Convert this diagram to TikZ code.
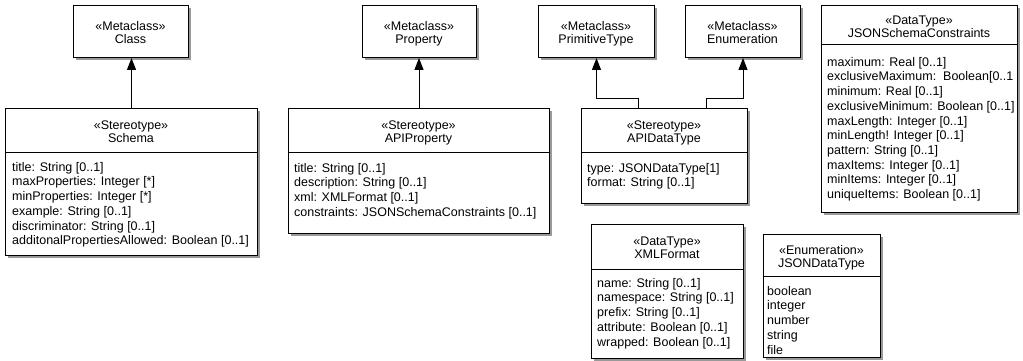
\documentclass[tikz,border=0pt]{standalone}
\usepackage{fontspec}
\usetikzlibrary{arrows.meta,shadows}
\newfontfamily\umlfamily{Liberation Sans}
\newcommand\umlattrfont{\umlfamily\fontsize{12.5pt}{14.7pt}\selectfont}
\newcommand\umlhdrfont{\umlfamily\fontsize{12.5pt}{13pt}\selectfont}
\newcommand\capstrut{\rule{0pt}{11pt}}
\tikzset{
  umlbox/.style={draw, line width=1pt, fill=white, anchor=north west, inner sep=0pt,
    drop shadow={shadow xshift=2.5pt, shadow yshift=-2.5pt, fill=black!40, opacity=1}},
  hdrtext/.style={anchor=north, align=center, inner sep=0pt, font=\umlhdrfont},
  attrtext/.style={anchor=north west, align=left, inner sep=0pt, font=\umlattrfont},
  divline/.style={line width=1pt},
  gen/.style={-{Triangle[width=9pt,length=12pt]}, line width=1pt},
}
\begin{document}
\begin{tikzpicture}[x=1pt,y=-1pt]
\useasboundingbox (0,0) rectangle (1023,361);

% metaclasses
\node[umlbox, minimum width=115pt, minimum height=52pt] (class) at (73,5) {};
\node[hdrtext] (class-h) at (130.5,19.5) {\capstrut«Metaclass»\\Class};
\node[umlbox, minimum width=114pt, minimum height=52pt] (prop) at (362,5) {};
\node[hdrtext] (prop-h) at (419,19.5) {\capstrut«Metaclass»\\Property};
\node[umlbox, minimum width=116pt, minimum height=52pt] (primtype) at (538,5) {};
\node[hdrtext] (primtype-h) at (596,19.5) {\capstrut«Metaclass»\\PrimitiveType};
\node[umlbox, minimum width=115pt, minimum height=52pt] (enum) at (685,5) {};
\node[hdrtext] (enum-h) at (742.5,19.5) {\capstrut«Metaclass»\\Enumeration};

% Schema stereotype
\node[umlbox, minimum width=252pt, minimum height=147pt] (schema) at (5,108) {};
\draw[divline] (schema.west |- 0,152) -- (schema.east |- 0,152);
\node[hdrtext] (schema-h) at (131,118) {\capstrut«Stereotype»\\Schema};
\node[attrtext] (schema-a) at (12,160) {\capstrut title: String [0..1]\\
  maxProperties: Integer [*]\\
  minProperties: Integer [*]\\
  example: String [0..1]\\
  discriminator: String [0..1]\\
  additonalPropertiesAllowed: Boolean [0..1]};

% APIProperty stereotype
\node[umlbox, minimum width=261pt, minimum height=125pt] (apiprop) at (288,108) {};
\draw[divline] (apiprop.west |- 0,152) -- (apiprop.east |- 0,152);
\node[hdrtext] (apiprop-h) at (418.5,118) {\capstrut«Stereotype»\\APIProperty};
\node[attrtext] (apiprop-a) at (294,161) {\capstrut title: String [0..1]\\
  description: String [0..1]\\
  xml: XMLFormat [0..1]\\
  constraints: JSONSchemaConstraints [0..1]};

% APIDataType stereotype
\node[umlbox, minimum width=166pt, minimum height=95pt] (apidt) at (581,108) {};
\draw[divline] (apidt.west |- 0,152) -- (apidt.east |- 0,152);
\node[hdrtext] (apidt-h) at (664,118) {\capstrut«Stereotype»\\APIDataType};
\node[attrtext] (apidt-a) at (587,161) {\capstrut type: JSONDataType[1]\\
  format: String [0..1]};

% JSONSchemaConstraints data type
\node[umlbox, minimum width=196pt, minimum height=207pt] (jsc) at (821,5) {};
\draw[divline] (jsc.west |- 0,45) -- (jsc.east |- 0,45);
\node[hdrtext] (jsc-h) at (919,13) {\capstrut«DataType»\\JSONSchemaConstraints};
\node[attrtext] (jsc-a) at (827,55) {\capstrut maximum: Real [0..1]\\
  exclusiveMaximum:\ \ Boolean[0..1\\
  minimum: Real [0..1]\\
  exclusiveMinimum: Boolean [0..1]\\
  maxLength: Integer [0..1]\\
  minLength! Integer [0..1]\\
  pattern: String [0..1]\\
  maxItems: Integer [0..1]\\
  minItems: Integer [0..1]\\
  uniqueItems: Boolean [0..1]};

% XMLFormat data type
\node[umlbox, minimum width=152pt, minimum height=134pt] (xmlf) at (591,224) {};
\draw[divline] (xmlf.west |- 0,269) -- (xmlf.east |- 0,269);
\node[hdrtext] (xmlf-h) at (667,234) {\capstrut«DataType»\\XMLFormat};
\node[attrtext] (xmlf-a) at (597,276) {\capstrut name: String [0..1]\\
  namespace: String [0..1]\\
  prefix: String [0..1]\\
  attribute: Boolean [0..1]\\
  wrapped: Boolean [0..1]};

% JSONDataType enumeration
\node[umlbox, minimum width=117pt, minimum height=123pt] (jdt) at (763,234) {};
\draw[divline] (jdt.west |- 0,276) -- (jdt.east |- 0,276);
\node[hdrtext] (jdt-h) at (821.5,243) {\capstrut«Enumeration»\\JSONDataType};
\node[attrtext] (jdt-a) at (767,284) {\capstrut boolean\\
  integer\\
  number\\
  string\\
  file};

% extensions
\draw[gen] (schema.north) -- (schema.north |- class.south);
\draw[gen] (apiprop.north) -- (apiprop.north |- prop.south);
\draw[gen] ([xshift=57pt]apidt.north west) -- ++(0,-10) -| (primtype.south);
\draw[gen] ([xshift=-42pt]apidt.north east) -- ++(0,-10) -| (enum.south);
\end{tikzpicture}
\end{document}
